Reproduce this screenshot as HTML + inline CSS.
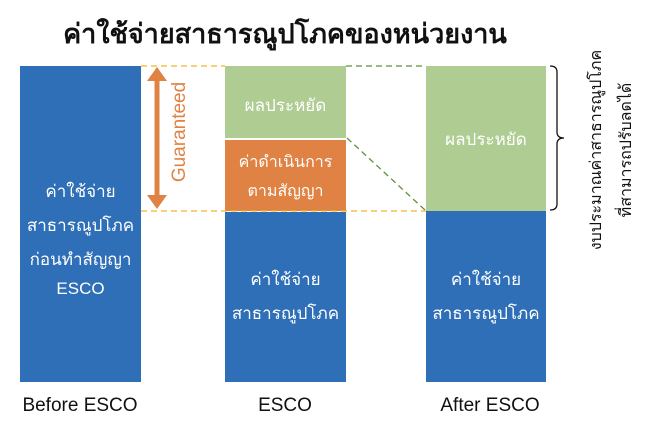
<!DOCTYPE html>
<html><head><meta charset="utf-8"><style>
body{margin:0;width:650px;height:434px;background:#fff;position:relative;overflow:hidden;font-family:"Liberation Sans","DejaVu Sans",sans-serif}
.a{position:absolute}
.bar{position:absolute;color:#fff;text-align:center;font-size:17px}
.t{position:absolute;left:0;right:0;text-align:center;white-space:nowrap}
.lab{position:absolute;font-size:19px;color:#111;text-align:center;width:160px;top:395px}
</style></head><body>
<div class="a" style="left:0;width:570px;top:12px;text-align:center;font-size:27px;font-weight:bold;color:#111">ค่าใช้จ่ายสาธารณูปโภคของหน่วยงาน</div>

<div class="bar" style="left:20px;top:66px;width:121px;height:316px;background:#2e6fb7">
 <div class="t" style="top:112px">ค่าใช้จ่าย</div>
 <div class="t" style="top:146px">สาธารณูปโภค</div>
 <div class="t" style="top:180px">ก่อนทำสัญญา</div>
 <div class="t" style="top:213px">ESCO</div>
</div>

<div class="bar" style="left:225px;top:66px;width:121px;height:72px;background:#afcd93">
 <div class="t" style="top:26px">ผลประหยัด</div></div>
<div class="bar" style="left:225px;top:140px;width:121px;height:71px;background:#e08244">
 <div class="t" style="top:10px;font-size:16px">ค่าดำเนินการ</div>
 <div class="t" style="top:39px;font-size:16px">ตามสัญญา</div></div>
<div class="bar" style="left:225px;top:212px;width:121px;height:170px;background:#2e6fb7">
 <div class="t" style="top:54px">ค่าใช้จ่าย</div>
 <div class="t" style="top:88px">สาธารณูปโภค</div></div>

<div class="bar" style="left:426px;top:66px;width:120px;height:145px;background:#afcd93">
 <div class="t" style="top:60px">ผลประหยัด</div></div>
<div class="bar" style="left:426px;top:211px;width:120px;height:171px;background:#2e6fb7">
 <div class="t" style="top:55px">ค่าใช้จ่าย</div>
 <div class="t" style="top:89px">สาธารณูปโภค</div></div>

<svg class="a" style="left:0;top:0" width="650" height="434">
 <g stroke-dasharray="6,4" stroke-width="1.3" fill="none">
  <line x1="141" y1="66" x2="225" y2="66" stroke="#f5b324"/>
  <line x1="141" y1="211" x2="426" y2="211" stroke="#f5b324"/>
  <line x1="346" y1="66" x2="426" y2="66" stroke="#5f8f3e"/>
  <line x1="347" y1="138" x2="425" y2="210" stroke="#5f8f3e"/>
 </g>
 <line x1="157" y1="78" x2="157" y2="198" stroke="#e08244" stroke-width="5"/>
 <polygon points="157,67 147,81 167,81" fill="#e08244"/>
 <polygon points="157,209 147,195 167,195" fill="#e08244"/>
 <path d="M550,66 Q557,66 557,72 L557,132 Q557,138 564,138 Q557,138 557,144 L557,204 Q557,210 550,210" stroke="#111" stroke-width="1.3" fill="none"/>
 <text transform="translate(185,132) rotate(-90)" text-anchor="middle" font-size="19" fill="#e08244" font-family="Liberation Sans, sans-serif">Guaranteed</text>
 <text transform="translate(601,150) rotate(-90)" text-anchor="middle" font-size="16" fill="#111" font-family="Liberation Sans, DejaVu Sans, sans-serif">งบประมาณค่าสาธารณูปโภค</text>
 <text transform="translate(631,150) rotate(-90)" text-anchor="middle" font-size="16" fill="#111" font-family="Liberation Sans, DejaVu Sans, sans-serif">ที่สามารถปรับลดได้</text>
</svg>

<div class="lab" style="left:0">Before ESCO</div>
<div class="lab" style="left:205px">ESCO</div>
<div class="lab" style="left:410px">After ESCO</div>
</body></html>
